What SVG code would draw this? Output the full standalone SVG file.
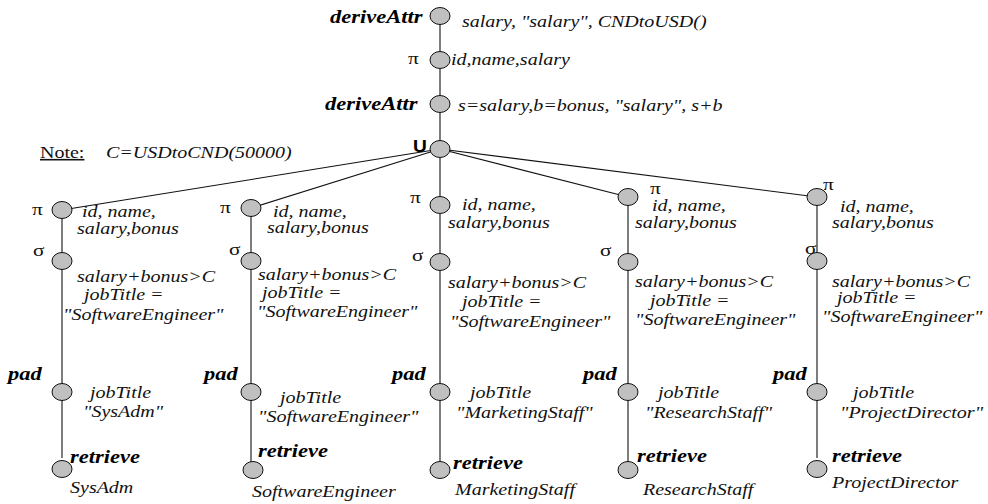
<svg xmlns="http://www.w3.org/2000/svg" width="988" height="504" viewBox="0 0 988 504">
<style>
.n{fill:#c0c0c0;stroke:#111;stroke-width:1}
.e{stroke:#111;stroke-width:1.1;fill:none}
.i{font-family:"Liberation Serif",serif;font-style:italic;font-size:16px;fill:#111}
.b{font-family:"Liberation Serif",serif;font-style:italic;font-weight:bold;font-size:18px;fill:#000}
.g{font-family:"Liberation Serif",serif;font-size:17px;fill:#111}
.u{font-family:"Liberation Sans",sans-serif;font-weight:bold;font-size:16px;fill:#000}
.r{font-family:"Liberation Serif",serif;font-size:16px;fill:#111}
</style>
<rect width="988" height="504" fill="#fff"/>
<g id="connectors">
<line class="e" x1="440" y1="16" x2="440" y2="149"/>
<line class="e" x1="440" y1="149" x2="62" y2="210"/>
<line class="e" x1="440" y1="149" x2="251" y2="208"/>
<line class="e" x1="440" y1="149" x2="440" y2="205"/>
<line class="e" x1="440" y1="149" x2="628" y2="197"/>
<line class="e" x1="440" y1="149" x2="817" y2="197"/>
<line class="e" x1="62" y1="210" x2="62" y2="458"/>
<line class="e" x1="251" y1="208" x2="251" y2="462"/>
<line class="e" x1="440" y1="205" x2="440" y2="462"/>
<line class="e" x1="628" y1="197" x2="628" y2="462"/>
<line class="e" x1="817" y1="197" x2="817" y2="458"/>
</g>
<g id="derive1"><ellipse class="n" cx="440" cy="16" rx="10" ry="8.5"/>
<text class="b" transform="translate(330 23) scale(1.25 1)">deriveAttr</text>
<text class="i" transform="translate(462 27) scale(1.25 1)">salary, "salary", CNDtoUSD()</text></g>
<g id="proj0"><ellipse class="n" cx="440" cy="60" rx="10" ry="8.5"/>
<text class="g" transform="translate(408 64) scale(1.25 1)">π</text>
<text class="i" transform="translate(451 65) scale(1.25 1)">id,name,salary</text></g>
<g id="derive2"><ellipse class="n" cx="440" cy="104" rx="10" ry="8.5"/>
<text class="b" transform="translate(325 110) scale(1.25 1)">deriveAttr</text>
<text class="i" transform="translate(458 111) scale(1.25 1)">s=salary,b=bonus, "salary", s+b</text></g>
<g id="union"><ellipse class="n" cx="440" cy="149" rx="10" ry="8.5"/>
<text class="u" transform="translate(413 152) scale(1.2 1)">U</text></g>
<g id="note">
<text class="r" transform="translate(40 158) scale(1.25 1)" text-decoration="underline">Note:</text>
<text class="i" transform="translate(106 158) scale(1.25 1)">C=USDtoCND(50000)</text></g>

<g id="c1-proj"><ellipse class="n" cx="62" cy="210" rx="10" ry="8.5"/>
<text class="g" transform="translate(32 215) scale(1.25 1)">π</text>
<text class="i" transform="translate(82 217) scale(1.25 1)">id, name,</text>
<text class="i" transform="translate(77 234) scale(1.25 1)">salary,bonus</text></g>
<g id="c1-sel"><ellipse class="n" cx="62" cy="261" rx="10" ry="8.5"/>
<text class="g" transform="translate(33 256) scale(1.25 1)">σ</text>
<text class="i" transform="translate(77 282) scale(1.25 1)">salary+bonus&gt;C</text>
<text class="i" transform="translate(84 300) scale(1.25 1)">jobTitle =</text>
<text class="i" transform="translate(63 320) scale(1.25 1)">"SoftwareEngineer"</text></g>
<g id="c1-pad"><ellipse class="n" cx="62" cy="392" rx="10" ry="8.5"/>
<text class="b" transform="translate(8 380) scale(1.25 1)">pad</text>
<text class="i" transform="translate(90 398) scale(1.25 1)">jobTitle</text>
<text class="i" transform="translate(83 417) scale(1.25 1)">"SysAdm"</text></g>
<g id="c1-ret"><ellipse class="n" cx="62" cy="469" rx="10" ry="8.5"/>
<text class="b" transform="translate(70 463) scale(1.25 1)">retrieve</text>
<text class="i" transform="translate(70 493) scale(1.25 1)">SysAdm</text></g>

<g id="c2-proj"><ellipse class="n" cx="251" cy="208" rx="10" ry="8.5"/>
<text class="g" transform="translate(220 213) scale(1.25 1)">π</text>
<text class="i" transform="translate(273 217) scale(1.25 1)">id, name,</text>
<text class="i" transform="translate(267 233) scale(1.25 1)">salary,bonus</text></g>
<g id="c2-sel"><ellipse class="n" cx="251" cy="261" rx="10" ry="8.5"/>
<text class="g" transform="translate(229 255) scale(1.25 1)">σ</text>
<text class="i" transform="translate(258 280) scale(1.25 1)">salary+bonus&gt;C</text>
<text class="i" transform="translate(262 298) scale(1.25 1)">jobTitle =</text>
<text class="i" transform="translate(257 317) scale(1.25 1)">"SoftwareEngineer"</text></g>
<g id="c2-pad"><ellipse class="n" cx="251" cy="392" rx="10" ry="8.5"/>
<text class="b" transform="translate(204 380) scale(1.25 1)">pad</text>
<text class="i" transform="translate(280 403) scale(1.25 1)">jobTitle</text>
<text class="i" transform="translate(258 422) scale(1.25 1)">"SoftwareEngineer"</text></g>
<g id="c2-ret"><ellipse class="n" cx="253" cy="470" rx="10" ry="8.5"/>
<text class="b" transform="translate(258 457) scale(1.25 1)">retrieve</text>
<text class="i" transform="translate(252 497) scale(1.25 1)">SoftwareEngineer</text></g>

<g id="c3-proj"><ellipse class="n" cx="440" cy="205" rx="10" ry="8.5"/>
<text class="g" transform="translate(410 203) scale(1.25 1)">π</text>
<text class="i" transform="translate(462 210) scale(1.25 1)">id, name,</text>
<text class="i" transform="translate(448 228) scale(1.25 1)">salary,bonus</text></g>
<g id="c3-sel"><ellipse class="n" cx="440" cy="262" rx="10" ry="8.5"/>
<text class="g" transform="translate(412 261) scale(1.25 1)">σ</text>
<text class="i" transform="translate(448 288) scale(1.25 1)">salary+bonus&gt;C</text>
<text class="i" transform="translate(462 307) scale(1.25 1)">jobTitle =</text>
<text class="i" transform="translate(450 327) scale(1.25 1)">"SoftwareEngineer"</text></g>
<g id="c3-pad"><ellipse class="n" cx="440" cy="392" rx="10" ry="8.5"/>
<text class="b" transform="translate(392 380) scale(1.25 1)">pad</text>
<text class="i" transform="translate(470 398) scale(1.25 1)">jobTitle</text>
<text class="i" transform="translate(456 418) scale(1.25 1)">"MarketingStaff"</text></g>
<g id="c3-ret"><ellipse class="n" cx="440" cy="470" rx="10" ry="8.5"/>
<text class="b" transform="translate(453 469) scale(1.25 1)">retrieve</text>
<text class="i" transform="translate(455 495) scale(1.25 1)">MarketingStaff</text></g>

<g id="c4-proj"><ellipse class="n" cx="628" cy="197" rx="10" ry="8.5"/>
<text class="g" transform="translate(650 194) scale(1.25 1)">π</text>
<text class="i" transform="translate(652 211) scale(1.25 1)">id, name,</text>
<text class="i" transform="translate(635 228) scale(1.25 1)">salary,bonus</text></g>
<g id="c4-sel"><ellipse class="n" cx="628" cy="262" rx="10" ry="8.5"/>
<text class="g" transform="translate(600 256) scale(1.25 1)">σ</text>
<text class="i" transform="translate(635 287) scale(1.25 1)">salary+bonus&gt;C</text>
<text class="i" transform="translate(650 306) scale(1.25 1)">jobTitle =</text>
<text class="i" transform="translate(635 325) scale(1.25 1)">"SoftwareEngineer"</text></g>
<g id="c4-pad"><ellipse class="n" cx="628" cy="392" rx="10" ry="8.5"/>
<text class="b" transform="translate(583 380) scale(1.25 1)">pad</text>
<text class="i" transform="translate(658 398) scale(1.25 1)">jobTitle</text>
<text class="i" transform="translate(645 418) scale(1.25 1)">"ResearchStaff"</text></g>
<g id="c4-ret"><ellipse class="n" cx="628" cy="470" rx="10" ry="8.5"/>
<text class="b" transform="translate(637 462) scale(1.25 1)">retrieve</text>
<text class="i" transform="translate(643 495) scale(1.25 1)">ResearchStaff</text></g>

<g id="c5-proj"><ellipse class="n" cx="817" cy="197" rx="10" ry="8.5"/>
<text class="g" transform="translate(823 190) scale(1.25 1)">π</text>
<text class="i" transform="translate(840 212) scale(1.25 1)">id, name,</text>
<text class="i" transform="translate(832 228) scale(1.25 1)">salary,bonus</text></g>
<g id="c5-sel"><ellipse class="n" cx="817" cy="261" rx="10" ry="8.5"/>
<text class="g" transform="translate(805 254) scale(1.25 1)">σ</text>
<text class="i" transform="translate(832 287) scale(1.25 1)">salary+bonus&gt;C</text>
<text class="i" transform="translate(837 303) scale(1.25 1)">jobTitle =</text>
<text class="i" transform="translate(822 322) scale(1.25 1)">"SoftwareEngineer"</text></g>
<g id="c5-pad"><ellipse class="n" cx="817" cy="392" rx="10" ry="8.5"/>
<text class="b" transform="translate(773 380) scale(1.25 1)">pad</text>
<text class="i" transform="translate(853 398) scale(1.25 1)">jobTitle</text>
<text class="i" transform="translate(840 418) scale(1.25 1)">"ProjectDirector"</text></g>
<g id="c5-ret"><ellipse class="n" cx="817" cy="469" rx="10" ry="8.5"/>
<text class="b" transform="translate(832 462) scale(1.25 1)">retrieve</text>
<text class="i" transform="translate(832 488) scale(1.25 1)">ProjectDirector</text></g>
</svg>
